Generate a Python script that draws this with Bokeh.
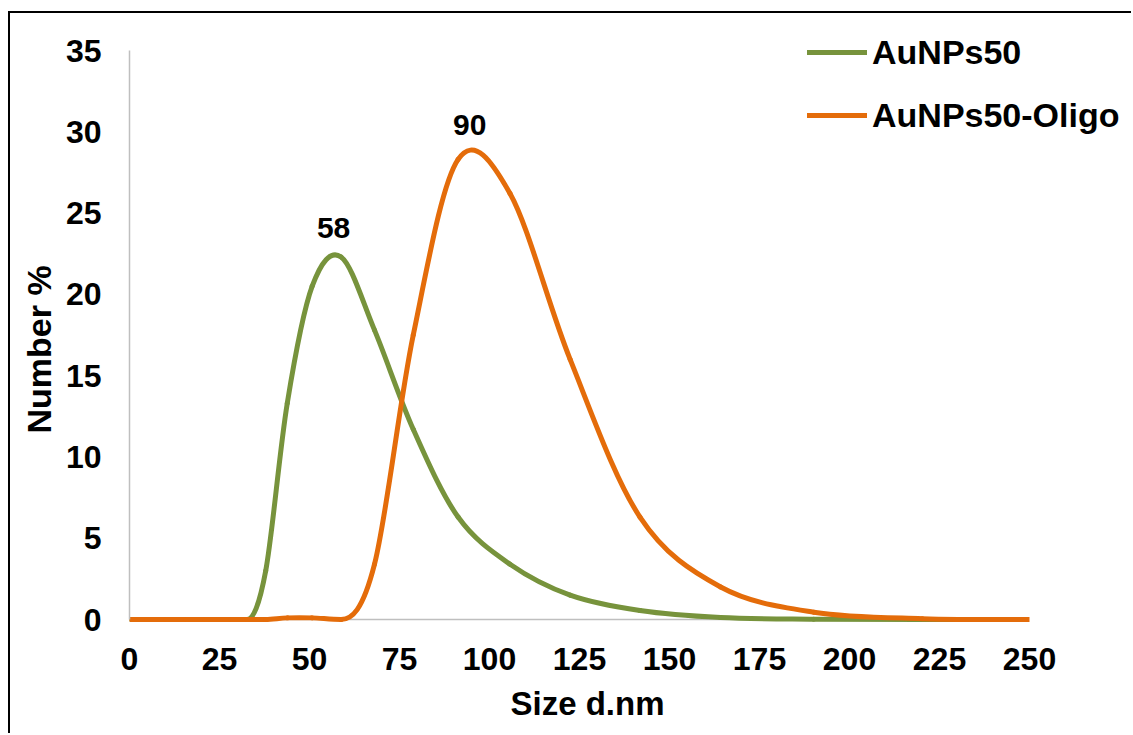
import numpy as np
from bokeh.plotting import figure
from bokeh.models import (Range1d, FixedTicker, Legend, LegendItem, ColumnDataSource,
                          BoxAnnotation, Title)
from bokeh.embed import file_html
from bokeh.resources import INLINE
from bokeh.core.properties import value

# ---- data (DLS number distribution) ----
sizes = [0.4, 4.849, 10.10, 15.69, 21.04, 28.21, 32.67, 37.84, 43.82, 50.75, 58.77,
         68.06, 78.82, 91.28, 105.7, 122.4, 141.8, 164.2, 190.1, 220.2, 255.0]
aunps50 = [0, 0, 0, 0, 0, 0, 0, 3.0, 13.3, 20.5, 22.3,
           17.8, 11.7, 6.3, 3.4, 1.5, 0.55, 0.12, 0.02, 0, 0]
aunps50_oligo = [0, 0, 0, 0, 0, 0, 0, 0, 0.1, 0.1, 0,
                 3.4, 17.5, 28.3, 26.2, 16.0, 6.3, 2.0, 0.45, 0.05, 0]
series_names = ["AuNPs50", "AuNPs50-Oligo"]
series_colors = ["#77933C", "#E46C0A"]

peak_labels = ["58", "90"]
peak_label_x = [56.7, 94.5]
peak_label_y = [23.45, 29.8]

x_ticks = [0, 25, 50, 75, 100, 125, 150, 175, 200, 225, 250]
y_ticks = [0, 5, 10, 15, 20, 25, 30, 35]
x_title = "Size d.nm"
y_title = "Number %"

FONT = "Liberation Sans"


def smooth_segments(xs, ys):
    """Bezier segments (Excel-like smoothed line) through the data points."""
    x = np.asarray(xs, float)
    y = np.asarray(ys, float)
    n = len(x)
    xp = np.concatenate([[x[0]], x, [x[-1]]])
    yp = np.concatenate([[y[0]], y, [y[-1]]])
    tx = (xp[2:] - xp[:-2]) / 6.0
    ty = (yp[2:] - yp[:-2]) / 6.0
    # flat tangent at local minima (keeps the smoothed line from dipping below 0)
    for i in range(n):
        if yp[i + 1] <= yp[i] and yp[i + 1] <= yp[i + 2]:
            ty[i] = 0.0
    d = dict(x0=x[:-1], y0=y[:-1], x1=x[1:], y1=y[1:],
             cx0=x[:-1] + tx[:-1], cy0=y[:-1] + ty[:-1],
             cx1=x[1:] - tx[1:], cy1=y[1:] - ty[1:])
    return ColumnDataSource(d)


# layout geometry (canvas pixels)
W, H = 1123, 722
FRAME_LEFT, FRAME_BOTTOM = 119, 611
PX_X = 3.6        # pixels per nm
PX_Y = 16.257     # pixels per %
x_end = x_ticks[-1] + (W - FRAME_LEFT - (x_ticks[-1] - x_ticks[0]) * PX_X) / PX_X
y_start = -5 / PX_Y
y_end = y_start + FRAME_BOTTOM / PX_Y

p = figure(width=W, height=H, x_range=Range1d(0, x_end), y_range=Range1d(y_start, y_end),
           output_backend="svg", toolbar_location=None,
           min_border_left=FRAME_LEFT, min_border_right=0,
           min_border_top=0, min_border_bottom=H - FRAME_BOTTOM)
p.styles = {"border-top": "2px solid #000000", "border-left": "2px solid #000000",
            "margin-top": "11px", "margin-left": "8px"}
p.background_fill_color = "white"
p.border_fill_color = "white"
p.outline_line_color = None
p.xgrid.visible = False
p.ygrid.visible = False

# horizontal axis line at 0 (from first to last tick)
p.segment(x0=[x_ticks[0]], y0=[0], x1=[x_ticks[-1]], y1=[0],
          line_color="#BFBFBF", line_width=1.5)

renderers = []
for ys, col in zip([aunps50, aunps50_oligo], series_colors):
    src = smooth_segments(sizes, ys)
    r = p.bezier(x0="x0", y0="y0", x1="x1", y1="y1", cx0="cx0", cy0="cy0",
                 cx1="cx1", cy1="cy1", source=src, line_color=col, line_width=5,
                 line_cap="round", line_join="round")
    renderers.append(r)

# axis maximum (250) clips the plotted lines like the original chart
p.add_layout(BoxAnnotation(left=x_ticks[-1], bottom=y_start, top=1.0,
                           fill_color="white", fill_alpha=1.0, line_color=None))

p.text(x=peak_label_x, y=peak_label_y, text=peak_labels, text_align="center",
       text_baseline="bottom", text_font=value(FONT), text_font_style="bold",
       text_font_size="30px", text_color="#000000")

for ax in (p.xaxis[0], p.yaxis[0]):
    ax.axis_line_color = "#BFBFBF"
    ax.axis_line_width = 1.5
    ax.major_tick_line_color = None
    ax.minor_tick_line_color = None
    ax.major_tick_out = 0
    ax.major_tick_in = 0
    ax.major_label_text_font = FONT
    ax.major_label_text_font_style = "bold"
    ax.major_label_text_font_size = "32px"
    ax.major_label_text_color = "#000000"

p.xaxis.axis_line_color = None
p.xaxis.ticker = FixedTicker(ticks=x_ticks)
p.yaxis.ticker = FixedTicker(ticks=y_ticks)
p.yaxis.bounds = (y_ticks[0], y_ticks[-1])
p.xaxis.major_label_standoff = 23
p.yaxis.major_label_standoff = 28

# axis titles as side-panel titles, positioned like the original
p.add_layout(Title(text=x_title, align="left", offset=381, vertical_align="top",
                   standoff=24, text_font=FONT, text_font_style="bold",
                   text_font_size="33px", text_color="#000000"), "below")
p.add_layout(Title(text=y_title, align="left", offset=191, vertical_align="bottom",
                   standoff=9, text_font=FONT, text_font_style="bold",
                   text_font_size="34px", text_color="#000000"), "left")

legend = Legend(items=[LegendItem(label=n, renderers=[r]) for n, r in zip(series_names, renderers)],
                location=(678, 489), orientation="vertical")
legend.label_text_font = FONT
legend.label_text_font_style = "bold"
legend.label_text_font_size = "34px"
legend.label_text_color = "#000000"
legend.glyph_width = 60
legend.glyph_height = 40
legend.label_height = 40
legend.label_standoff = 5
legend.spacing = 23
legend.padding = 0
legend.margin = 0
legend.border_line_color = None
legend.background_fill_alpha = 0
p.add_layout(legend, "center")

open("out.html", "w").write(file_html(p, INLINE))
